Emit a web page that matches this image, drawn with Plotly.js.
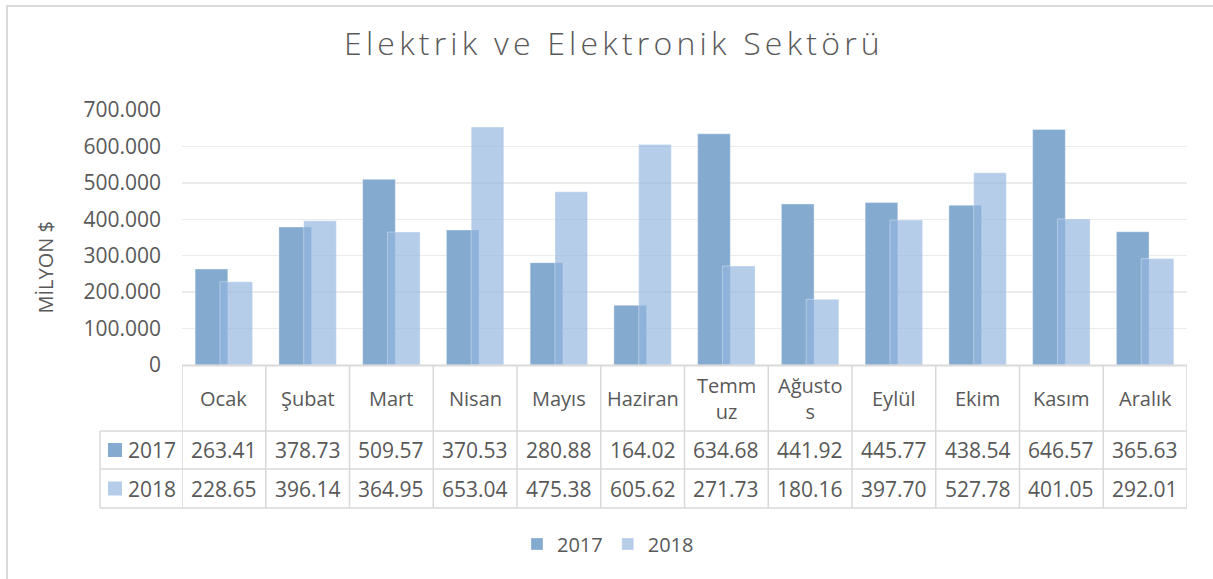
<!DOCTYPE html>
<html>
<head>
<meta charset="utf-8">
<script src="https://cdn.plot.ly/plotly-3.0.1.min.js"></script>
<style>
  html, body { margin: 0; padding: 0; background: #fff; }
  #chart { width: 1213px; height: 579px; }
  .gtitle { letter-spacing: 4.2px; }
</style>
</head>
<body>
<div id="chart"></div>
<script>
// ---- data ----
const months = ['Ocak','Şubat','Mart','Nisan','Mayıs','Haziran','Temmuz','Ağustos','Eylül','Ekim','Kasım','Aralık'];
const monthHeaderLabels = ['Ocak','Şubat','Mart','Nisan','Mayıs','Haziran','Temm<br>uz','Ağusto<br>s','Eylül','Ekim','Kasım','Aralık'];
const seriesNames = ['2017','2018'];
const values2017 = [263.41,378.73,509.57,370.53,280.88,164.02,634.68,441.92,445.77,438.54,646.57,365.63];
const values2018 = [228.65,396.14,364.95,653.04,475.38,605.62,271.73,180.16,397.70,527.78,401.05,292.01];
const yTickVals = [0,100,200,300,400,500,600,700];
const yTickText = ['0','100.000','200.000','300.000','400.000','500.000','600.000','700.000'];
const chartTitle = 'Elektrik ve Elektronik Sektörü';
const yTitle = 'MİLYON $';

// ---- styling / geometry ----
const W = 1213, H = 579;
const L = 182, R = 1187, T = 110, B = 365;
const px2x = p => (p - L) / (R - L);
const px2y = p => (B - p) / (B - T);
const textColor = '#595959';
const gridColor = '#ebebeb';
const tableLine = '#d9d9d9';
const color2017 = '#84aad0';
const color2018 = 'rgba(148,181,223,0.68)';
const font = 'Open Sans, Noto Sans, sans-serif';

const seriesValues = [values2017, values2018];
const seriesColors = [color2017, color2018];
const seriesOffsets = [-0.343, -0.047];
const barWidth = 0.39;

const traces = seriesNames.map((name, k) => ({
  type: 'bar',
  name: name,
  x: months,
  y: seriesValues[k],
  offset: seriesOffsets[k],
  width: barWidth,
  marker: { color: seriesColors[k], line: { color: 'rgba(255,255,255,0.35)', width: 1 } },
  hoverinfo: 'skip'
}));

// ---- data table (shapes + annotations) ----
const shapes = [];
const annotations = [];
const headerTop = 366, headerBottom = 431, row1Bottom = 469, row2Bottom = 508, leftColX = 100;
const rowCenters = [450, 488.5];

// outer chart border
shapes.push({ type: 'rect', xref: 'paper', yref: 'paper',
  x0: px2x(7), x1: px2x(W + 20), y0: px2y(6), y1: px2y(H + 20),
  line: { color: '#d9d9d9', width: 2 }, fillcolor: 'rgba(0,0,0,0)', layer: 'below' });

// axis / table top line
shapes.push({ type: 'line', xref: 'x', yref: 'paper', x0: -0.5, x1: months.length - 0.5,
  y0: px2y(365.5), y1: px2y(365.5), line: { color: tableLine, width: 2 } });
// horizontal table lines
[headerBottom, row1Bottom, row2Bottom].forEach(py => {
  shapes.push({ type: 'line', xref: 'paper', yref: 'paper', x0: px2x(leftColX), x1: px2x(R),
    y0: px2y(py), y1: px2y(py), line: { color: tableLine, width: 1.5 } });
});
// vertical lines at category boundaries
for (let i = 0; i <= months.length; i++) {
  shapes.push({ type: 'line', xref: 'x', yref: 'paper', x0: i - 0.5, x1: i - 0.5,
    y0: px2y(headerTop - 1), y1: px2y(row2Bottom), line: { color: tableLine, width: 1.5 } });
}
// left column border
shapes.push({ type: 'line', xref: 'paper', yref: 'paper', x0: px2x(leftColX), x1: px2x(leftColX),
  y0: px2y(headerBottom), y1: px2y(row2Bottom), line: { color: tableLine, width: 1.5 } });

// header: month names
monthHeaderLabels.forEach((m, i) => {
  annotations.push({ xref: 'x', yref: 'paper', x: i, y: px2y(398.5), text: m,
    showarrow: false, xanchor: 'center', yanchor: 'middle',
    font: { family: font, size: 20, color: textColor } });
});
// values rows
seriesValues.forEach((vals, k) => {
  vals.forEach((v, i) => {
    annotations.push({ xref: 'x', yref: 'paper', x: i, y: px2y(rowCenters[k]), text: v.toFixed(2),
      showarrow: false, xanchor: 'center', yanchor: 'middle',
      font: { family: font, size: 21, color: textColor } });
  });
  // row header legend key + label
  shapes.push({ type: 'rect', xref: 'paper', yref: 'paper',
    x0: px2x(108), x1: px2x(122), y0: px2y(rowCenters[k] - 7), y1: px2y(rowCenters[k] + 7),
    fillcolor: seriesColors[k], line: { width: 0 } });
  annotations.push({ xref: 'paper', yref: 'paper', x: px2x(126), y: px2y(rowCenters[k]), text: seriesNames[k],
    showarrow: false, xanchor: 'left', yanchor: 'middle',
    font: { family: font, size: 21, color: textColor } });
});

// y-axis title
annotations.push({ xref: 'paper', yref: 'paper', x: px2x(44.5), y: px2y(268), text: yTitle,
  textangle: -90, showarrow: false, xanchor: 'center', yanchor: 'middle',
  font: { family: font, size: 20, color: textColor } });

const layout = {
  width: W, height: H,
  margin: { l: L, r: W - R, t: T, b: H - B, autoexpand: false },
  paper_bgcolor: '#ffffff', plot_bgcolor: '#ffffff',
  barmode: 'overlay',
  title: { text: chartTitle, x: 614 / W, xref: 'container', xanchor: 'center',
    y: 1 - 44 / H, yref: 'container', yanchor: 'middle',
    font: { family: font, size: 32, color: textColor, weight: 300 } },
  xaxis: { type: 'category', range: [-0.5, months.length - 0.5], showticklabels: false,
    showgrid: false, zeroline: false, showline: false, ticks: '', fixedrange: true },
  yaxis: { range: [0, 700], tickvals: yTickVals, ticktext: yTickText,
    showgrid: true, gridcolor: gridColor, gridwidth: 1.3, zeroline: false, showline: false,
    ticks: '', ticklabelstandoff: 20,
    tickfont: { family: font, size: 21, color: textColor }, fixedrange: true },
  showlegend: true,
  legend: { orientation: 'h', x: px2x(608), xanchor: 'center', y: px2y(544), yanchor: 'middle',
    font: { family: font, size: 20, color: textColor }, itemwidth: 30, bgcolor: 'rgba(0,0,0,0)' },
  shapes: shapes,
  annotations: annotations
};

Plotly.newPlot('chart', traces, layout, { staticPlot: true, displayModeBar: false });
</script>
</body>
</html>
